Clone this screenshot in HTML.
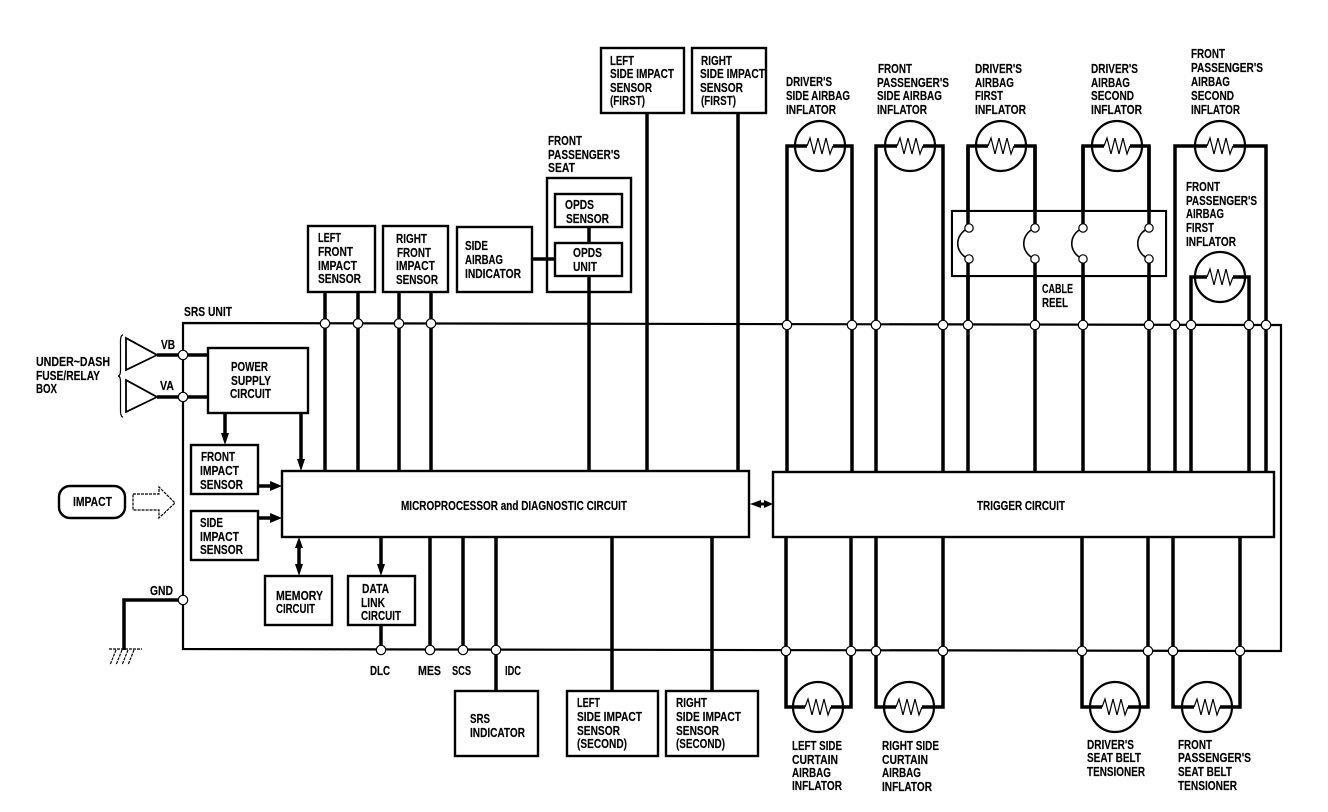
<!DOCTYPE html>
<html><head><meta charset="utf-8"><title>SRS diagram</title>
<style>
html,body{margin:0;padding:0;background:#fff}
svg{display:block}
text{font-family:"Liberation Sans",sans-serif;font-size:13px;font-weight:bold;fill:#000;stroke:#000;stroke-width:.15}
.b{fill:#fff;stroke:#000;stroke-width:2.4}
.t{fill:none;stroke:#000;stroke-width:2.2}
.w{fill:none;stroke:#000;stroke-width:3.5}
.n{fill:#fff;stroke:#000;stroke-width:1.2}
.z{fill:none;stroke:#000;stroke-width:1.2}
.a{fill:#000;stroke:none}
</style></head><body>
<svg xmlns="http://www.w3.org/2000/svg" width="1328" height="812" viewBox="0 0 1328 812">
<rect width="1328" height="812" fill="#fff"/>
<defs>
<g id="inf"><circle r="25" fill="#fff" stroke="#000" stroke-width="2.2"/><path class="w" d="M-25 0H-13M13 0H25"/><path class="z" d="M-13 0L-10 -8L-6 8L-2 -8L2 8L6 -8L10 8L13 0"/></g>
<g id="hook"><path class="z" style="stroke-width:1.6" d="M0 0C-15 6 -15 25 0 31"/><circle class="n" cx="0" cy="0" r="4.2"/><circle class="n" cx="0" cy="31" r="4.2"/></g>
</defs>

<!-- main unit outline -->
<path class="t" d="M183 323L1281 325V651L183 649Z"/>

<!-- upper wires -->
<path class="w" d="M325 292V470M358 292V470M399 292V470M431 292V470M589 276V470M647 113V470M738 113V471"/>
<path class="w" d="M589 227V243M532 259H555"/>
<!-- lower wires -->
<path class="w" d="M430 536V650M463 536V650M496 536V691M612 536V691M712 536V691M381 625V650"/>

<!-- inflator wires top -->
<path class="w" d="M787 472V146H852V472"/>
<path class="w" d="M876 472V146H943V472"/>
<path class="w" d="M968 472V146H1035V472"/>
<path class="w" d="M1083 472V146H1149V472"/>
<path class="w" d="M1175 472V146H1266V472"/>
<path class="w" d="M1191 472V277H1249V472"/>
<!-- inflator wires bottom -->
<path class="w" d="M786 537V707H851V537"/>
<path class="w" d="M876 537V707H943V537"/>
<path class="w" d="M1082 537V707H1148V537"/>
<path class="w" d="M1173 537V707H1240V537"/>

<!-- cable reel -->
<rect x="952" y="211" width="214" height="65" fill="none" stroke="#000" stroke-width="2.2"/>
<rect x="953" y="212" width="212" height="63" fill="#fff"/>
<path class="w" d="M968 146V228M1035 146V228M1083 146V228M1149 146V228M968 259V330M1035 259V330M1083 259V330M1149 259V330"/>
<use href="#hook" x="969" y="228"/><use href="#hook" x="1035" y="228"/><use href="#hook" x="1083" y="228"/><use href="#hook" x="1149" y="228"/>

<!-- inflators -->
<use href="#inf" x="820" y="146"/><use href="#inf" x="910" y="146"/><use href="#inf" x="1001" y="146"/><use href="#inf" x="1117" y="146"/><use href="#inf" x="1220" y="146"/><use href="#inf" x="1220" y="277"/>
<use href="#inf" x="818" y="707"/><use href="#inf" x="909" y="707"/><use href="#inf" x="1115" y="707"/><use href="#inf" x="1207" y="707"/>

<!-- boxes -->
<rect class="b" x="308" y="226" width="67" height="66"/>
<rect class="b" x="383" y="226" width="65" height="66"/>
<rect class="b" x="457" y="227" width="75" height="65"/>
<rect class="b" x="547" y="178" width="84" height="114" style="fill:none"/>
<rect class="b" x="555" y="194" width="67" height="33"/>
<rect class="b" x="555" y="243" width="67" height="33"/>
<rect class="b" x="601" y="48" width="83" height="65"/>
<rect class="b" x="692" y="48" width="74" height="65"/>
<rect class="b" x="208" y="348" width="100" height="65"/>
<rect class="b" x="191" y="445" width="67" height="49"/>
<rect class="b" x="191" y="511" width="67" height="49"/>
<rect class="b" x="282" y="471" width="467" height="66"/>
<rect class="b" x="773" y="472" width="501" height="65"/>
<rect class="b" x="265" y="576" width="67" height="49"/>
<rect class="b" x="348" y="576" width="67" height="49"/>
<rect class="b" x="455" y="691" width="83" height="65"/>
<rect class="b" x="567" y="691" width="91" height="65"/>
<rect class="b" x="666" y="691" width="92" height="65"/>
<rect class="b" x="59" y="486" width="66" height="32" rx="11"/>

<!-- left side connectors -->
<path class="w" d="M157 355H208M157 397H208M183 600H124V650"/>
<path class="t" d="M126 338V370L157 355ZM126 380V412L157 397Z" style="stroke-width:1.8"/>
<path class="z" d="M123 335Q120 335 120.500 345V370Q120.500 376 118 376Q120.500 376 120.500 382V410Q120.500 417 123 417"/>
<path class="z" d="M109 649H142M116 650L110 665M122 650L116 665M128 650L122 665M134 650L128 665" stroke-dasharray="3 1"/>
<path class="z" stroke-dasharray="3 1" d="M133 494H159V487L175 503L159 518V510H133Z"/>

<!-- arrows -->
<path class="w" d="M225 413V437M301 413V462M259 486H272M259 518H272M299 544V568M381 537V568"/>
<path class="a" d="M221 433H229L225 445ZM297 459H305L301 471ZM270 481V491L282 486ZM270 513V523L282 518ZM295 548H303L299 537ZM295 564H303L299 576ZM377 564H385L381 576Z"/>
<path class="a" d="M750 504L761 500V502.500H764V500L773 504L764 508V505.500H761V508Z"/>

<!-- nodes -->
<circle class="n" cx="325" cy="323.500" r="4.700"/><circle class="n" cx="358" cy="323.500" r="4.700"/><circle class="n" cx="399" cy="323.500" r="4.700"/><circle class="n" cx="431" cy="323.500" r="4.700"/>
<circle class="n" cx="787" cy="325" r="4.700"/><circle class="n" cx="852" cy="325" r="4.700"/><circle class="n" cx="876" cy="325" r="4.700"/><circle class="n" cx="943" cy="325" r="4.700"/><circle class="n" cx="968" cy="325" r="4.700"/><circle class="n" cx="1035" cy="325" r="4.700"/><circle class="n" cx="1083" cy="325" r="4.700"/><circle class="n" cx="1149" cy="325" r="4.700"/><circle class="n" cx="1175" cy="325" r="4.700"/><circle class="n" cx="1191" cy="325" r="4.700"/><circle class="n" cx="1249" cy="325" r="4.700"/><circle class="n" cx="1266" cy="325" r="4.700"/>
<circle class="n" cx="183" cy="355" r="4.700"/><circle class="n" cx="183" cy="397" r="4.700"/><circle class="n" cx="183" cy="600" r="4.700"/>
<circle class="n" cx="381" cy="650" r="4.700"/><circle class="n" cx="430" cy="650" r="4.700"/><circle class="n" cx="463" cy="650" r="4.700"/><circle class="n" cx="496" cy="650" r="4.700"/>
<circle class="n" cx="786" cy="651" r="4.700"/><circle class="n" cx="851" cy="651" r="4.700"/><circle class="n" cx="876" cy="651" r="4.700"/><circle class="n" cx="943" cy="651" r="4.700"/><circle class="n" cx="1082" cy="651" r="4.700"/><circle class="n" cx="1148" cy="651" r="4.700"/><circle class="n" cx="1173" cy="651" r="4.700"/><circle class="n" cx="1240" cy="651" r="4.700"/>

<!-- text -->
<text lengthAdjust="spacingAndGlyphs" x="184" y="316" textLength="48">SRS UNIT</text>
<text lengthAdjust="spacingAndGlyphs" x="36" y="366" textLength="74">UNDER~DASH</text>
<text lengthAdjust="spacingAndGlyphs" x="36" y="380" textLength="64">FUSE/RELAY</text>
<text lengthAdjust="spacingAndGlyphs" x="36" y="393" textLength="21">BOX</text>
<text lengthAdjust="spacingAndGlyphs" x="161" y="349" textLength="14">VB</text>
<text lengthAdjust="spacingAndGlyphs" x="160" y="390" textLength="14">VA</text>
<text lengthAdjust="spacingAndGlyphs" x="150" y="595" textLength="23">GND</text>
<text lengthAdjust="spacingAndGlyphs" x="231" y="371" textLength="37">POWER</text>
<text lengthAdjust="spacingAndGlyphs" x="231" y="385" textLength="40">SUPPLY</text>
<text lengthAdjust="spacingAndGlyphs" x="230" y="398" textLength="41">CIRCUIT</text>
<text lengthAdjust="spacingAndGlyphs" x="201" y="461" textLength="34">FRONT</text>
<text lengthAdjust="spacingAndGlyphs" x="200" y="475" textLength="39">IMPACT</text>
<text lengthAdjust="spacingAndGlyphs" x="200" y="489" textLength="43">SENSOR</text>
<text lengthAdjust="spacingAndGlyphs" x="200" y="527" textLength="23">SIDE</text>
<text lengthAdjust="spacingAndGlyphs" x="200" y="541" textLength="39">IMPACT</text>
<text lengthAdjust="spacingAndGlyphs" x="200" y="554" textLength="43">SENSOR</text>
<text lengthAdjust="spacingAndGlyphs" x="73" y="506" textLength="39">IMPACT</text>
<text lengthAdjust="spacingAndGlyphs" x="276" y="600" textLength="47">MEMORY</text>
<text lengthAdjust="spacingAndGlyphs" x="276" y="613" textLength="39">CIRCUIT</text>
<text lengthAdjust="spacingAndGlyphs" x="362" y="593" textLength="27">DATA</text>
<text lengthAdjust="spacingAndGlyphs" x="361" y="607" textLength="24">LINK</text>
<text lengthAdjust="spacingAndGlyphs" x="361" y="620" textLength="40">CIRCUIT</text>
<text lengthAdjust="spacingAndGlyphs" x="370" y="675" textLength="20">DLC</text>
<text lengthAdjust="spacingAndGlyphs" x="418" y="675" textLength="23">MES</text>
<text lengthAdjust="spacingAndGlyphs" x="452" y="675" textLength="19">SCS</text>
<text lengthAdjust="spacingAndGlyphs" x="505" y="675" textLength="16">IDC</text>
<text lengthAdjust="spacingAndGlyphs" x="401" y="510" textLength="226">MICROPROCESSOR and DIAGNOSTIC CIRCUIT</text>
<text lengthAdjust="spacingAndGlyphs" x="977" y="510" textLength="88">TRIGGER CIRCUIT</text>

<text lengthAdjust="spacingAndGlyphs" x="318" y="242" textLength="23">LEFT</text>
<text lengthAdjust="spacingAndGlyphs" x="318" y="256" textLength="35">FRONT</text>
<text lengthAdjust="spacingAndGlyphs" x="318" y="270" textLength="39">IMPACT</text>
<text lengthAdjust="spacingAndGlyphs" x="318" y="283" textLength="43">SENSOR</text>
<text lengthAdjust="spacingAndGlyphs" x="396" y="243" textLength="31">RIGHT</text>
<text lengthAdjust="spacingAndGlyphs" x="397" y="257" textLength="34">FRONT</text>
<text lengthAdjust="spacingAndGlyphs" x="396" y="270" textLength="39">IMPACT</text>
<text lengthAdjust="spacingAndGlyphs" x="396" y="284" textLength="42">SENSOR</text>
<text lengthAdjust="spacingAndGlyphs" x="465" y="250" textLength="23">SIDE</text>
<text lengthAdjust="spacingAndGlyphs" x="465" y="264" textLength="38">AIRBAG</text>
<text lengthAdjust="spacingAndGlyphs" x="465" y="278" textLength="56">INDICATOR</text>
<text lengthAdjust="spacingAndGlyphs" x="548" y="145" textLength="34">FRONT</text>
<text lengthAdjust="spacingAndGlyphs" x="548" y="159" textLength="72">PASSENGER'S</text>
<text lengthAdjust="spacingAndGlyphs" x="548" y="172" textLength="27">SEAT</text>
<text lengthAdjust="spacingAndGlyphs" x="565" y="209" textLength="29">OPDS</text>
<text lengthAdjust="spacingAndGlyphs" x="566" y="223" textLength="43">SENSOR</text>
<text lengthAdjust="spacingAndGlyphs" x="573" y="257" textLength="29">OPDS</text>
<text lengthAdjust="spacingAndGlyphs" x="573" y="271" textLength="24">UNIT</text>
<text lengthAdjust="spacingAndGlyphs" x="610" y="65" textLength="24">LEFT</text>
<text lengthAdjust="spacingAndGlyphs" x="610" y="78" textLength="64">SIDE IMPACT</text>
<text lengthAdjust="spacingAndGlyphs" x="610" y="92" textLength="42">SENSOR</text>
<text lengthAdjust="spacingAndGlyphs" x="610" y="105" textLength="35">(FIRST)</text>
<text lengthAdjust="spacingAndGlyphs" x="701" y="65" textLength="31">RIGHT</text>
<text lengthAdjust="spacingAndGlyphs" x="700" y="78" textLength="65">SIDE IMPACT</text>
<text lengthAdjust="spacingAndGlyphs" x="700" y="92" textLength="43">SENSOR</text>
<text lengthAdjust="spacingAndGlyphs" x="701" y="105" textLength="35">(FIRST)</text>

<text lengthAdjust="spacingAndGlyphs" x="470" y="723" textLength="20">SRS</text>
<text lengthAdjust="spacingAndGlyphs" x="470" y="737" textLength="55">INDICATOR</text>
<text lengthAdjust="spacingAndGlyphs" x="577" y="707" textLength="23">LEFT</text>
<text lengthAdjust="spacingAndGlyphs" x="577" y="721" textLength="65">SIDE IMPACT</text>
<text lengthAdjust="spacingAndGlyphs" x="577" y="735" textLength="43">SENSOR</text>
<text lengthAdjust="spacingAndGlyphs" x="577" y="748" textLength="50">(SECOND)</text>
<text lengthAdjust="spacingAndGlyphs" x="676" y="707" textLength="31">RIGHT</text>
<text lengthAdjust="spacingAndGlyphs" x="676" y="721" textLength="65">SIDE IMPACT</text>
<text lengthAdjust="spacingAndGlyphs" x="676" y="735" textLength="43">SENSOR</text>
<text lengthAdjust="spacingAndGlyphs" x="676" y="748" textLength="49">(SECOND)</text>

<text lengthAdjust="spacingAndGlyphs" x="792" y="750" textLength="50">LEFT SIDE</text>
<text lengthAdjust="spacingAndGlyphs" x="792" y="764" textLength="46">CURTAIN</text>
<text lengthAdjust="spacingAndGlyphs" x="792" y="777" textLength="39">AIRBAG</text>
<text lengthAdjust="spacingAndGlyphs" x="792" y="790" textLength="50">INFLATOR</text>
<text lengthAdjust="spacingAndGlyphs" x="882" y="750" textLength="57">RIGHT SIDE</text>
<text lengthAdjust="spacingAndGlyphs" x="882" y="764" textLength="46">CURTAIN</text>
<text lengthAdjust="spacingAndGlyphs" x="882" y="777" textLength="39">AIRBAG</text>
<text lengthAdjust="spacingAndGlyphs" x="882" y="791" textLength="50">INFLATOR</text>
<text lengthAdjust="spacingAndGlyphs" x="1087" y="749" textLength="47">DRIVER'S</text>
<text lengthAdjust="spacingAndGlyphs" x="1087" y="762" textLength="54">SEAT BELT</text>
<text lengthAdjust="spacingAndGlyphs" x="1087" y="776" textLength="58">TENSIONER</text>
<text lengthAdjust="spacingAndGlyphs" x="1178" y="749" textLength="34">FRONT</text>
<text lengthAdjust="spacingAndGlyphs" x="1178" y="762" textLength="73">PASSENGER'S</text>
<text lengthAdjust="spacingAndGlyphs" x="1178" y="776" textLength="54">SEAT BELT</text>
<text lengthAdjust="spacingAndGlyphs" x="1178" y="790" textLength="59">TENSIONER</text>

<text lengthAdjust="spacingAndGlyphs" x="786" y="86" textLength="46">DRIVER'S</text>
<text lengthAdjust="spacingAndGlyphs" x="786" y="100" textLength="64">SIDE AIRBAG</text>
<text lengthAdjust="spacingAndGlyphs" x="786" y="114" textLength="50">INFLATOR</text>
<text lengthAdjust="spacingAndGlyphs" x="878" y="73" textLength="34">FRONT</text>
<text lengthAdjust="spacingAndGlyphs" x="877" y="87" textLength="72">PASSENGER'S</text>
<text lengthAdjust="spacingAndGlyphs" x="877" y="100" textLength="65">SIDE AIRBAG</text>
<text lengthAdjust="spacingAndGlyphs" x="877" y="114" textLength="50">INFLATOR</text>
<text lengthAdjust="spacingAndGlyphs" x="975" y="73" textLength="47">DRIVER'S</text>
<text lengthAdjust="spacingAndGlyphs" x="975" y="87" textLength="39">AIRBAG</text>
<text lengthAdjust="spacingAndGlyphs" x="975" y="100" textLength="28">FIRST</text>
<text lengthAdjust="spacingAndGlyphs" x="975" y="114" textLength="51">INFLATOR</text>
<text lengthAdjust="spacingAndGlyphs" x="1091" y="73" textLength="47">DRIVER'S</text>
<text lengthAdjust="spacingAndGlyphs" x="1091" y="87" textLength="39">AIRBAG</text>
<text lengthAdjust="spacingAndGlyphs" x="1091" y="100" textLength="43">SECOND</text>
<text lengthAdjust="spacingAndGlyphs" x="1091" y="114" textLength="51">INFLATOR</text>
<text lengthAdjust="spacingAndGlyphs" x="1191" y="58" textLength="34">FRONT</text>
<text lengthAdjust="spacingAndGlyphs" x="1191" y="72" textLength="72">PASSENGER'S</text>
<text lengthAdjust="spacingAndGlyphs" x="1191" y="86" textLength="39">AIRBAG</text>
<text lengthAdjust="spacingAndGlyphs" x="1191" y="100" textLength="43">SECOND</text>
<text lengthAdjust="spacingAndGlyphs" x="1191" y="114" textLength="49">INFLATOR</text>
<text lengthAdjust="spacingAndGlyphs" x="1186" y="191" textLength="34">FRONT</text>
<text lengthAdjust="spacingAndGlyphs" x="1186" y="205" textLength="71">PASSENGER'S</text>
<text lengthAdjust="spacingAndGlyphs" x="1186" y="218" textLength="38">AIRBAG</text>
<text lengthAdjust="spacingAndGlyphs" x="1186" y="232" textLength="28">FIRST</text>
<text lengthAdjust="spacingAndGlyphs" x="1186" y="246" textLength="50">INFLATOR</text>
<text lengthAdjust="spacingAndGlyphs" x="1042" y="293" textLength="31">CABLE</text>
<text lengthAdjust="spacingAndGlyphs" x="1042" y="307" textLength="26">REEL</text>
</svg>
</body></html>
